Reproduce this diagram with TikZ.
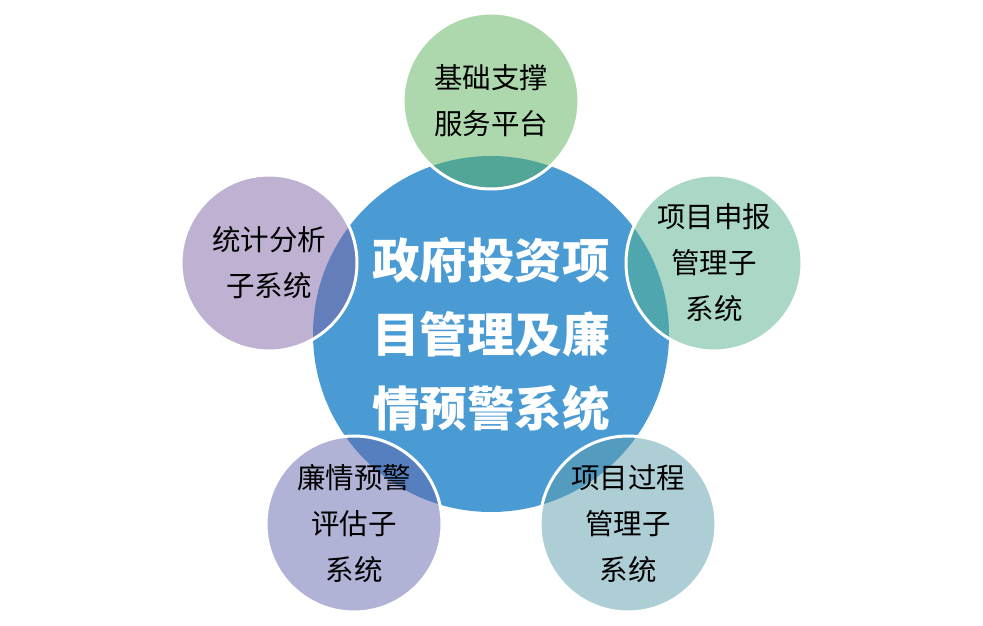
\documentclass[tikz,border=0pt]{standalone}
\usepackage{fontspec}
\newfontfamily\cjk{Noto Sans CJK SC}[BoldFont={Noto Sans CJK SC Black}]
\definecolor{cblue}{RGB}{74,155,211}
\definecolor{sgreen}{RGB}{91,177,93}
\definecolor{steal}{RGB}{87,177,141}
\definecolor{spurple}{RGB}{125,99,165}
\definecolor{sviolet}{RGB}{97,101,173}
\definecolor{sblue}{RGB}{93,157,173}
\tikzset{
  sat/.style={circle, minimum size=176pt, inner sep=0pt, fill opacity=0.5, text opacity=1,
    draw=white, line width=3pt, align=center, text=black,
    font=\cjk\fontsize{28.5}{46}\selectfont},
  hub/.style={circle, minimum size=356pt, inner sep=0pt, fill=cblue, align=center, text=white,
    font=\cjk\bfseries\fontsize{47.5}{74}\selectfont}
}
\begin{document}
\begin{tikzpicture}[x=1pt,y=-1pt]
\useasboundingbox (0,0) rectangle (983,626);
\node[hub] (hub) at (491,334) {政府投资项\\目管理及廉\\情预警系统};
\node[sat, fill=sgreen] (top) at (491,101) {基础支撑\\服务平台};
\node[sat, fill=steal] (right) at (714,263) {项目申报\\管理子\\系统};
\node[sat, fill=spurple] (left) at (269,263) {统计分析\\子系统};
\node[sat, fill=sviolet] (bl) at (354,524) {廉情预警\\评估子\\系统};
\node[sat, fill=sblue] (br) at (628,524) {项目过程\\管理子\\系统};
\end{tikzpicture}
\end{document}
